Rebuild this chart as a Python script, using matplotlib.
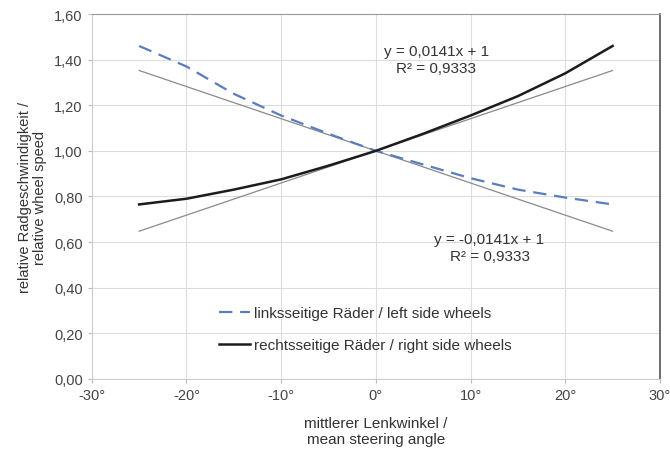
import matplotlib
matplotlib.use("Agg")
import matplotlib.pyplot as plt
from matplotlib.ticker import FuncFormatter

plt.rcParams['font.family'] = ['Liberation Sans', 'DejaVu Sans']

# mean steering angle in degrees
angle = [-25, -20, -15, -10, -5, 0, 5, 10, 15, 20, 25]
left_wheels = [1.46, 1.37, 1.25, 1.155, 1.075, 1.00, 0.94, 0.88, 0.83, 0.795, 0.765]
right_wheels = [0.765, 0.79, 0.83, 0.875, 0.935, 1.00, 1.075, 1.155, 1.24, 1.34, 1.46]

trend_slope = 0.0141
trend_icpt = 1.0
trend_x = [-25, 25]

left_label = "linksseitige Räder / left side wheels"
right_label = "rechtsseitige Räder / right side wheels"
eq_right = "y = 0,0141x + 1\nR² = 0,9333"
eq_left = "y = -0,0141x + 1\nR² = 0,9333"

fig = plt.figure(figsize=(6.7, 4.56), dpi=100)
ax = fig.add_axes([0.137, 0.167, 0.848, 0.80])

ax.plot(trend_x, [trend_icpt + trend_slope * x for x in trend_x],
        color="#8a8a8a", lw=0.9, zorder=2)
ax.plot(trend_x, [trend_icpt - trend_slope * x for x in trend_x],
        color="#8a8a8a", lw=0.9, zorder=2)

ax.plot(angle, left_wheels, color="#5a7dbf", lw=1.6, dashes=(6, 3.5),
        label=left_label, zorder=3)
ax.plot(angle, right_wheels, color="#1c1c1c", lw=1.8,
        label=right_label, zorder=4)

ax.text(6.4, 1.40, eq_right, ha="center", va="center", fontsize=11,
        color="#333333", linespacing=1.25)
ax.text(12.0, 0.575, eq_left, ha="center", va="center", fontsize=11,
        color="#333333", linespacing=1.25)

ax.set_xlim(-30, 30)
ax.set_ylim(0, 1.6)
ax.set_xticks(range(-30, 31, 10))
ax.set_yticks([i * 0.2 for i in range(9)])
ax.xaxis.set_major_formatter(FuncFormatter(lambda v, p: f"{v:.0f}°"))
ax.yaxis.set_major_formatter(FuncFormatter(lambda v, p: f"{v:.2f}".replace(".", ",")))
ax.tick_params(labelsize=10.5, colors="#444444", length=3, color="#bbbbbb")
ax.grid(True, color="#dddddd", lw=0.8)
ax.set_axisbelow(True)

for s in ["left", "bottom"]:
    ax.spines[s].set_color("#cccccc")
ax.spines["top"].set_color("#999999")
ax.spines["right"].set_color("#555555")
ax.spines["right"].set_linewidth(1.2)

ax.set_xlabel("mittlerer Lenkwinkel /\nmean steering angle", fontsize=11,
              color="#333333", labelpad=10, linespacing=1.2)
ax.set_ylabel("relative Radgeschwindigkeit /\nrelative wheel speed", fontsize=10.5,
              color="#333333", labelpad=5, linespacing=1.1)

ax.legend(loc="lower left", bbox_to_anchor=(0.2, 0.035), frameon=False,
          fontsize=11, handlelength=2.0, handletextpad=0.3, labelspacing=1.2,
          labelcolor="#333333")

fig.savefig("out.png", dpi=100)
